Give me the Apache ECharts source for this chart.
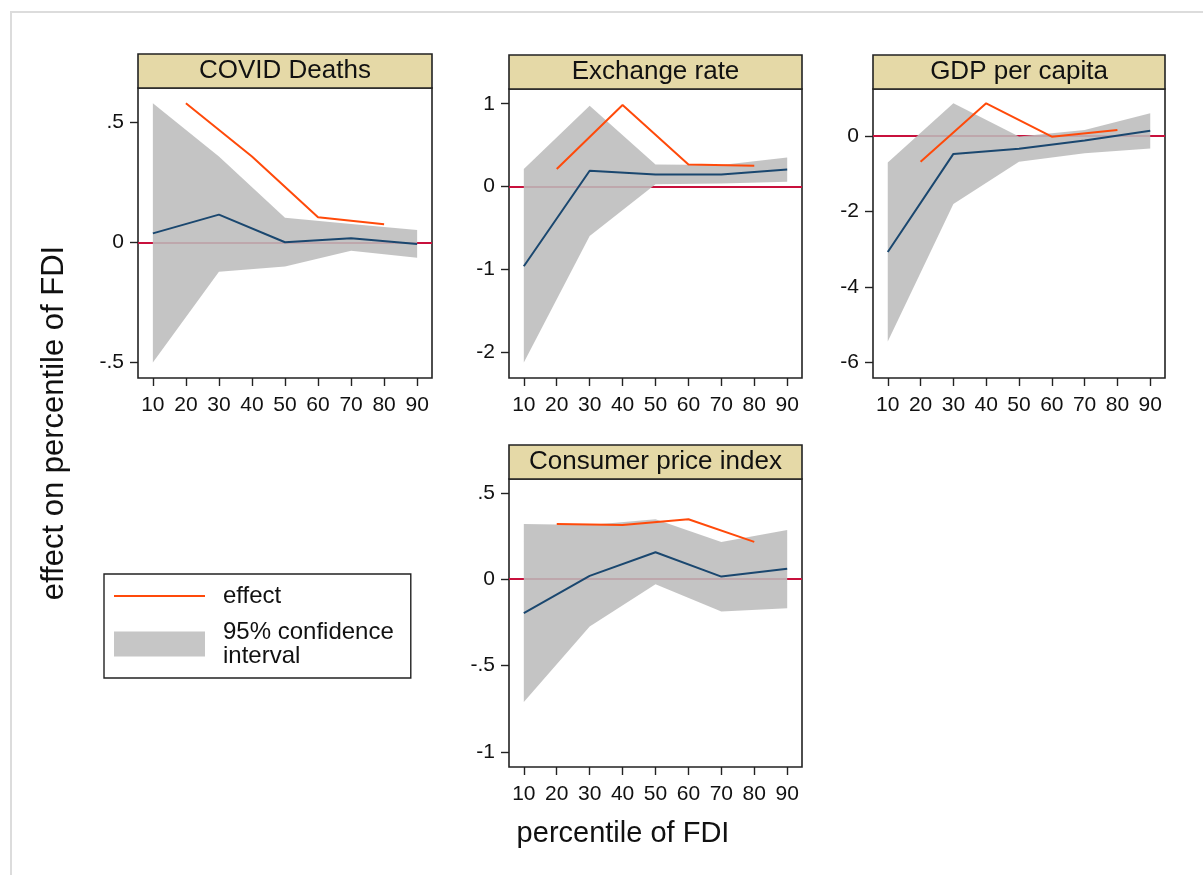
<!DOCTYPE html>
<html>
<head>
<meta charset="utf-8">
<script src="https://cdn.jsdelivr.net/npm/echarts@6/dist/echarts.min.js"></script>
<style>
  html, body { margin: 0; padding: 0; background: #fff; }
  #chart { width: 1203px; height: 875px; }
</style>
</head>
<body>
<div id="chart"></div>
<script>
// percentiles of FDI
const percentiles = [10, 30, 50, 70, 90];
const effectPercentiles = [20, 40, 60, 80];
const xTicks = [10, 20, 30, 40, 50, 60, 70, 80, 90];

// COVID Deaths
const covidEstimate = [0.037, 0.115, 0.0, 0.017, -0.007];
const covidLower = [-0.500, -0.122, -0.101, -0.035, -0.064];
const covidUpper = [0.578, 0.356, 0.102, 0.076, 0.051];
const covidEffect = [0.578, 0.356, 0.104, 0.075];
const covidTicks = [-0.5, 0, 0.5];

// Exchange rate
const exchangeEstimate = [-0.965, 0.19, 0.145, 0.145, 0.205];
const exchangeLower = [-2.13, -0.60, 0.025, 0.035, 0.055];
const exchangeUpper = [0.21, 0.975, 0.265, 0.26, 0.35];
const exchangeEffect = [0.21, 0.985, 0.266, 0.25];
const exchangeTicks = [-2, -1, 0, 1];

// GDP per capita
const gdpEstimate = [-3.07, -0.476, -0.34, -0.12, 0.14];
const gdpLower = [-5.44, -1.80, -0.68, -0.46, -0.33];
const gdpUpper = [-0.705, 0.863, -0.018, 0.159, 0.60];
const gdpEffect = [-0.68, 0.863, -0.02, 0.16];
const gdpTicks = [-6, -4, -2, 0];

// Consumer price index
const cpiEstimate = [-0.197, 0.019, 0.156, 0.015, 0.06];
const cpiLower = [-0.711, -0.274, -0.029, -0.187, -0.168];
const cpiUpper = [0.32, 0.314, 0.347, 0.216, 0.285];
const cpiEffect = [0.32, 0.314, 0.347, 0.216];
const cpiTicks = [-1, -0.5, 0, 0.5];

const FONT = 'Liberation Sans, Arial, Helvetica, sans-serif';
const EFFECT_COLOR = '#ff4a0a';
const ESTIMATE_COLOR = '#1a476f';
const BAND_COLOR = 'rgba(188,188,188,0.88)';
const ZERO_COLOR = '#c8103c';
const FRAME = '#222';

const panels = [
  { title: 'COVID Deaths', est: covidEstimate, lo: covidLower, hi: covidUpper, eff: covidEffect, ticks: covidTicks,
    left: 138, top: 88, width: 294, height: 290, yMin: -0.564, yMax: 0.641 },
  { title: 'Exchange rate', est: exchangeEstimate, lo: exchangeLower, hi: exchangeUpper, eff: exchangeEffect, ticks: exchangeTicks,
    left: 509, top: 89, width: 293, height: 289, yMin: -2.317, yMax: 1.178 },
  { title: 'GDP per capita', est: gdpEstimate, lo: gdpLower, hi: gdpUpper, eff: gdpEffect, ticks: gdpTicks,
    left: 873, top: 89, width: 292, height: 289, yMin: -6.405, yMax: 1.242 },
  { title: 'Consumer price index', est: cpiEstimate, lo: cpiLower, hi: cpiUpper, eff: cpiEffect, ticks: cpiTicks,
    left: 509, top: 479, width: 293, height: 288, yMin: -1.087, yMax: 0.580 }
];

const zip = (xs, ys) => xs.map((x, i) => [x, ys[i]]);
const fmtY = v => v === 0 ? '0' : String(v).replace('0.', '.');

const grid = [], xAxis = [], yAxis = [], series = [], graphic = [];

// light outer frame
graphic.push({
  type: 'rect', silent: true, z: 0,
  shape: { x: 11, y: 12, width: 1400, height: 1000 },
  style: { fill: null, stroke: '#dcdcdc', lineWidth: 2 }
});

panels.forEach((p, i) => {
  grid.push({
    left: p.left, top: p.top, width: p.width, height: p.height,
    show: true, borderColor: FRAME, borderWidth: 1.6, backgroundColor: '#fff'
  });
  xAxis.push({
    type: 'value', gridIndex: i, min: 5.5, max: 94.5, position: 'bottom',
    axisLine: { show: false, onZero: false },
    splitLine: { show: false },
    axisTick: { show: true, length: 8, customValues: xTicks, lineStyle: { color: FRAME, width: 1.4 } },
    axisLabel: { customValues: xTicks, margin: 17, fontSize: 21, color: '#111', fontFamily: FONT }
  });
  yAxis.push({
    type: 'value', gridIndex: i, min: p.yMin, max: p.yMax, position: 'left',
    axisLine: { show: false, onZero: false },
    splitLine: { show: false },
    axisTick: { show: true, length: 8, customValues: p.ticks, lineStyle: { color: FRAME, width: 1.4 } },
    axisLabel: { customValues: p.ticks, margin: 14, fontSize: 21, color: '#111', fontFamily: FONT, formatter: fmtY }
  });

  // 95% confidence band as one polygon: upper bound left→right, lower bound right→left
  series.push({
    name: '95% confidence interval', type: 'custom', xAxisIndex: i, yAxisIndex: i,
    data: percentiles.map((x, k) => [x, p.lo[k], p.hi[k]]),
    encode: { x: 0, y: [1, 2] },
    silent: true, clip: true, z: 2,
    itemStyle: { color: '#c6c6c6' },
    renderItem: (params, api) => {
      if (params.dataIndex !== 0) return;
      const upper = percentiles.map((x, k) => api.coord([x, p.hi[k]]));
      const lower = percentiles.map((x, k) => api.coord([x, p.lo[k]])).reverse();
      return { type: 'polygon', shape: { points: upper.concat(lower) }, style: { fill: BAND_COLOR } };
    }
  });
  series.push({
    name: 'estimate', type: 'line', xAxisIndex: i, yAxisIndex: i,
    data: zip(percentiles, p.est), symbol: 'none', silent: true,
    lineStyle: { color: ESTIMATE_COLOR, width: 2 }, itemStyle: { color: ESTIMATE_COLOR }, z: 4,
    markLine: {
      silent: true, symbol: ['none', 'none'], z: 1, animation: false,
      label: { show: false },
      lineStyle: { color: ZERO_COLOR, width: 2, type: 'solid' },
      data: [{ yAxis: 0 }]
    }
  });
  series.push({
    name: 'effect', type: 'line', xAxisIndex: i, yAxisIndex: i,
    data: zip(effectPercentiles, p.eff), symbol: 'none', silent: true,
    lineStyle: { color: EFFECT_COLOR, width: 2 }, itemStyle: { color: EFFECT_COLOR }, z: 5
  });

  // title strip
  graphic.push({
    type: 'rect', silent: true, z: 10,
    shape: { x: p.left, y: p.top - 34, width: p.width, height: 34 },
    style: { fill: '#e5d9a7', stroke: FRAME, lineWidth: 1.6 }
  });
  graphic.push({
    type: 'text', silent: true, z: 11,
    x: p.left + p.width / 2, y: p.top - 17,
    style: { text: p.title, fill: '#111', font: '26px ' + FONT, align: 'center', verticalAlign: 'middle' }
  });
});

// axis titles
graphic.push({
  type: 'text', silent: true, z: 11, x: 54, y: 423, rotation: Math.PI / 2,
  style: { text: 'effect on percentile of FDI', fill: '#111', font: '31px ' + FONT, align: 'center', verticalAlign: 'middle' }
});
graphic.push({
  type: 'text', silent: true, z: 11, x: 623, y: 834,
  style: { text: 'percentile of FDI', fill: '#111', font: '29px ' + FONT, align: 'center', verticalAlign: 'middle' }
});

const chart = echarts.init(document.getElementById('chart'));
chart.setOption({
  animation: false,
  backgroundColor: '#fff',
  grid, xAxis, yAxis, series, graphic,
  legend: {
    left: 104, top: 574, orient: 'vertical', selectedMode: false,
    data: [
      { name: 'effect', itemStyle: { opacity: 0 } },
      { name: '95% confidence interval', icon: 'rect', itemStyle: { color: '#c6c6c6', borderWidth: 0 } }
    ],
    itemWidth: 91, itemHeight: 25, itemGap: 12,
    padding: [10, 17, 10, 9],
    borderColor: FRAME, borderWidth: 1.4, backgroundColor: '#fff',
    textStyle: { fontSize: 24, lineHeight: 24, color: '#111', fontFamily: FONT, padding: [0, 0, 0, 13] },
    formatter: name => name === '95% confidence interval' ? '95% confidence\ninterval' : name
  }
});
</script>
</body>
</html>
